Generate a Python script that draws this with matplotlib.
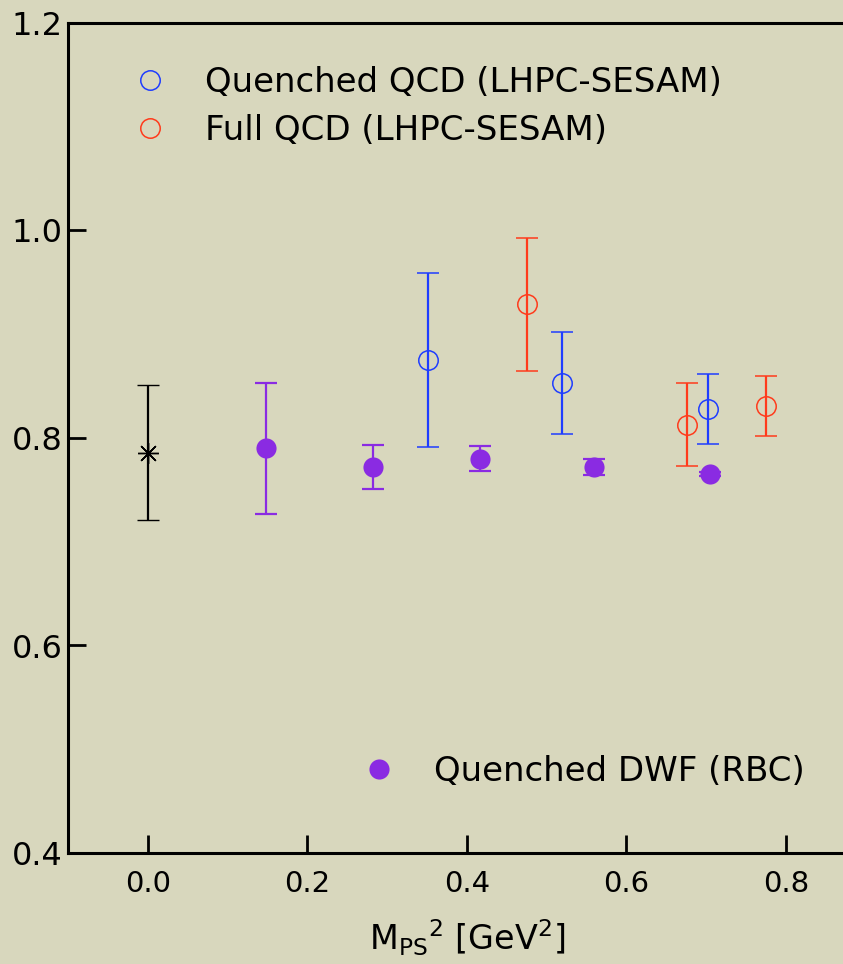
import matplotlib
matplotlib.use('Agg')
import matplotlib.pyplot as plt
from matplotlib.lines import Line2D

# --- data ---
# experiment / chiral point
exp_x = [0.0]
exp_y = [0.786]
exp_err = [0.065]

# Quenched DWF (RBC)
dwf_x = [0.148, 0.282, 0.416, 0.560, 0.705]
dwf_y = [0.790, 0.772, 0.780, 0.772, 0.765]
dwf_err = [0.063, 0.021, 0.012, 0.008, 0.002]

# Quenched QCD (LHPC-SESAM)
qqcd_x = [0.352, 0.519, 0.702]
qqcd_y = [0.875, 0.853, 0.828]
qqcd_err = [0.084, 0.049, 0.034]

# Full QCD (LHPC-SESAM)
fqcd_x = [0.475, 0.676, 0.775]
fqcd_y = [0.929, 0.813, 0.831]
fqcd_err = [0.064, 0.040, 0.029]

xticks = [0.0, 0.2, 0.4, 0.6, 0.8]
yticks = [0.4, 0.6, 0.8, 1.0, 1.2]

bg = '#d8d7bd'
blue = '#1f3dff'
red = '#ff3b1c'
purple = '#8a2be2'

plt.rcParams['font.family'] = ['DejaVu Sans']
plt.rcParams['mathtext.default'] = 'regular'

fig = plt.figure(figsize=(8.43, 9.64), dpi=100, facecolor=bg)
ax = fig.add_axes([68/843, 111/964, 797.5/843, 830/964])
ax.set_facecolor(bg)

eb = dict(capsize=8, elinewidth=1.6, capthick=1.6, linestyle='none')

ax.errorbar(exp_x, exp_y, yerr=exp_err, color='black', marker=(8, 2, 0),
            markersize=15, markeredgewidth=1.0, **eb)
# purple: bars first, filled dots on top so tiny caps hide under them
ax.errorbar(dwf_x, dwf_y, yerr=dwf_err, color=purple, marker='none', **eb)
ax.plot(dwf_x, dwf_y, linestyle='none', marker='o', markersize=14.5,
        color=purple, markeredgewidth=0, zorder=5)
ax.errorbar(qqcd_x, qqcd_y, yerr=qqcd_err, color=blue, marker='o',
            markersize=14, markerfacecolor='none', markeredgewidth=1.1, **eb)
ax.errorbar(fqcd_x, fqcd_y, yerr=fqcd_err, color=red, marker='o',
            markersize=14, markerfacecolor='none', markeredgewidth=1.1, **eb)

ax.set_xlim(-0.1, 0.9)
ax.set_ylim(0.4, 1.2)
ax.set_xticks(xticks)
ax.set_yticks(yticks)
ax.set_xticklabels([f'{v:.1f}' for v in xticks])
ax.set_yticklabels([f'{v:.1f}' for v in yticks])
ax.tick_params(direction='in', length=13, width=2, labelsize=21, pad=12)
ax.tick_params(axis='y', labelsize=23, pad=4)
for s in ['left', 'bottom', 'top']:
    ax.spines[s].set_linewidth(2.2)
ax.spines['right'].set_visible(False)

ax.set_xlabel(r'M$_{PS}$$^2$ [GeV$^2$]', fontsize=24, labelpad=14)

h1 = Line2D([], [], linestyle='none', marker='o', markersize=14,
            markerfacecolor='none', markeredgecolor=blue, markeredgewidth=1.1)
h2 = Line2D([], [], linestyle='none', marker='o', markersize=14,
            markerfacecolor='none', markeredgecolor=red, markeredgewidth=1.1)
leg1 = ax.legend([h1, h2], ['Quenched QCD (LHPC-SESAM)', 'Full QCD (LHPC-SESAM)'],
                 loc='upper left', bbox_to_anchor=(0.022, 0.985), frameon=False,
                 fontsize=24.5, handletextpad=0.6, labelspacing=0.45)
ax.add_artist(leg1)

h3 = Line2D([], [], linestyle='none', marker='o', markersize=14.5,
            markerfacecolor=purple, markeredgewidth=0)
ax.legend([h3], ['Quenched DWF (RBC)'], loc='lower left',
          bbox_to_anchor=(0.309, 0.041), frameon=False, fontsize=24.5,
          handletextpad=0.6)

fig.savefig('out.png', dpi=100, facecolor=bg)
